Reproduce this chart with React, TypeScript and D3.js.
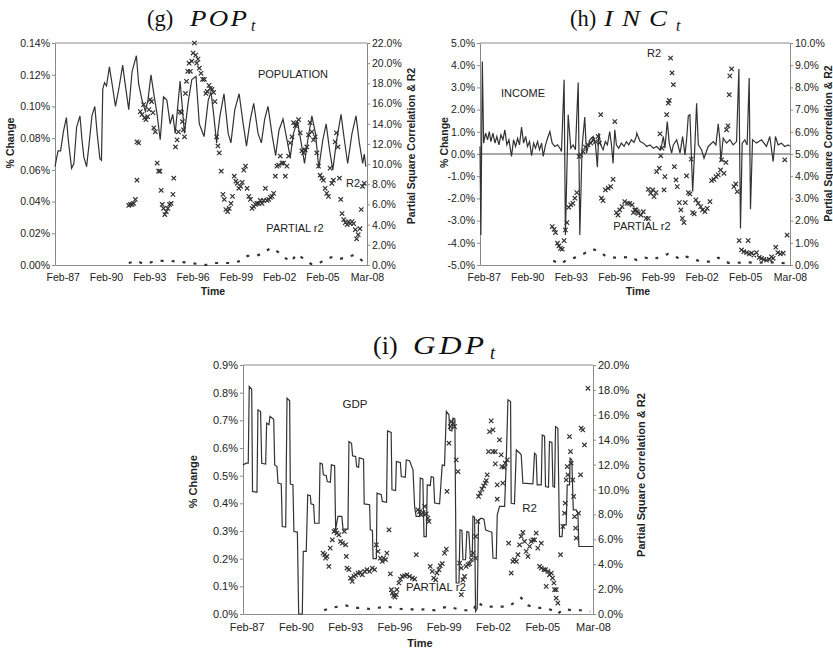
import React, { useEffect, useRef } from "react";
import * as d3 from "d3";

type Pt = [number, number];

// x values are decimal years (Feb-87 = 1987.083)
const X_END = 2008.17;
const X_TICK_YEARS = [1987.083, 1990.083, 1993.083, 1996.083, 1999.083, 2002.083, 2005.083, 2008.167];
const X_TICK_LABELS = ["Feb-87", "Feb-90", "Feb-93", "Feb-96", "Feb-99", "Feb-02", "Feb-05", "Mar-08"];

const POP_TICKS = [0, 0.02, 0.04, 0.06, 0.08, 0.1, 0.12, 0.14];
const POP_R_TICKS = [0, 2, 4, 6, 8, 10, 12, 14, 16, 18, 20, 22];
const INC_TICKS = [-5, -4, -3, -2, -1, 0, 1, 2, 3, 4, 5];
const INC_R_TICKS = [0, 1, 2, 3, 4, 5, 6, 7, 8, 9, 10];
const GDP_TICKS = [0, 0.1, 0.2, 0.3, 0.4, 0.5, 0.6, 0.7, 0.8, 0.9];
const GDP_R_TICKS = [0, 2, 4, 6, 8, 10, 12, 14, 16, 18, 20];

// population % change
const POP_LINE: Pt[] = [
  [1986.55, 0.062], [1986.76, 0.072], [1986.94, 0.072], [1987.13, 0.084], [1987.34, 0.093], [1987.47, 0.079],
  [1987.57, 0.071], [1987.7, 0.061], [1987.86, 0.064], [1988.05, 0.087], [1988.28, 0.094], [1988.42, 0.079],
  [1988.55, 0.068], [1988.74, 0.062], [1988.92, 0.077], [1989.11, 0.094], [1989.31, 0.1], [1989.47, 0.083],
  [1989.66, 0.067], [1989.77, 0.066], [1989.86, 0.111], [1989.98, 0.115], [1990.12, 0.113], [1990.32, 0.125],
  [1990.51, 0.114], [1990.74, 0.1], [1990.97, 0.111], [1991.24, 0.126], [1991.43, 0.113], [1991.66, 0.098],
  [1991.89, 0.122], [1992.19, 0.132], [1992.35, 0.114], [1992.58, 0.104], [1992.81, 0.097], [1992.99, 0.104],
  [1993.2, 0.12], [1993.43, 0.106], [1993.61, 0.096], [1993.84, 0.079], [1994.07, 0.106], [1994.3, 0.104],
  [1994.53, 0.089], [1994.71, 0.095], [1994.88, 0.083], [1995.22, 0.116], [1995.52, 0.083], [1995.8, 0.104],
  [1996.03, 0.117], [1996.32, 0.119], [1996.55, 0.089], [1996.88, 0.081], [1997.17, 0.104], [1997.36, 0.109],
  [1997.52, 0.097], [1997.75, 0.077], [1997.98, 0.094], [1998.26, 0.108], [1998.55, 0.083], [1998.74, 0.077],
  [1999.01, 0.098], [1999.31, 0.108], [1999.59, 0.089], [1999.82, 0.075], [2000.09, 0.092], [2000.32, 0.102],
  [2000.62, 0.083], [2000.85, 0.077], [2001.08, 0.092], [2001.31, 0.1], [2001.61, 0.081], [2001.84, 0.069],
  [2002.07, 0.085], [2002.35, 0.092], [2002.58, 0.081], [2002.85, 0.068], [2003.08, 0.083], [2003.34, 0.091],
  [2003.61, 0.077], [2003.84, 0.064], [2004.07, 0.079], [2004.35, 0.094], [2004.6, 0.083], [2004.83, 0.061],
  [2005.11, 0.079], [2005.34, 0.089], [2005.57, 0.073], [2005.8, 0.06], [2006.07, 0.079], [2006.37, 0.095],
  [2006.6, 0.079], [2006.83, 0.064], [2007.13, 0.083], [2007.41, 0.094], [2007.64, 0.077], [2007.87, 0.064],
  [2007.98, 0.07], [2008.09, 0.062],
];

const POP_R2: Pt[] = [
  [1991.66, 5.9], [1991.77, 6.0], [1991.89, 6.0], [1992.0, 6.1], [1992.12, 6.5], [1992.23, 8.4], [1992.23, 12.2],
  [1992.35, 12.1], [1992.46, 15.2], [1992.58, 14.9], [1992.69, 15.9], [1992.76, 14.6], [1992.85, 14.4], [1992.97, 14.7],
  [1993.06, 15.4], [1993.15, 16.4], [1993.24, 16.2], [1993.34, 15.1], [1993.4, 13.6], [1993.5, 13.2], [1993.63, 10.1],
  [1993.73, 9.3], [1993.82, 9.3], [1993.91, 7.4], [1993.98, 6.0], [1994.07, 5.6], [1994.16, 5.0], [1994.26, 5.3],
  [1994.37, 5.6], [1994.49, 6.0], [1994.6, 6.1], [1994.72, 7.0], [1994.78, 8.6], [1994.9, 11.7], [1995.01, 12.4],
  [1995.1, 13.2], [1995.2, 15.2], [1995.31, 15.1], [1995.38, 14.2], [1995.45, 13.4], [1995.52, 12.7], [1995.59, 17.0],
  [1995.66, 18.2], [1995.75, 19.2], [1995.84, 20.0], [1995.93, 19.2], [1996.03, 20.2], [1996.12, 21.0], [1996.21, 22.0],
  [1996.3, 20.8], [1996.37, 20.0], [1996.46, 20.4], [1996.55, 19.5], [1996.67, 19.0], [1996.78, 18.4], [1996.9, 18.4],
  [1997.01, 17.0], [1997.1, 17.2], [1997.22, 17.8], [1997.31, 17.5], [1997.43, 17.4], [1997.54, 17.1], [1997.63, 16.2],
  [1997.75, 12.7], [1997.84, 11.8], [1997.93, 11.1], [1998.07, 9.3], [1998.19, 7.0], [1998.28, 6.5], [1998.39, 5.5],
  [1998.51, 5.3], [1998.62, 5.6], [1998.74, 6.1], [1998.85, 6.8], [1998.97, 8.8], [1999.08, 8.3], [1999.18, 8.1],
  [1999.29, 7.6], [1999.41, 7.8], [1999.52, 8.2], [1999.63, 9.4], [1999.75, 9.8], [1999.86, 7.6], [1999.98, 6.8],
  [2000.09, 6.5], [2000.21, 5.6], [2000.32, 5.8], [2000.44, 6.0], [2000.55, 6.1], [2000.67, 6.1], [2000.78, 6.4],
  [2000.9, 6.1], [2001.01, 6.4], [2001.13, 7.6], [2001.24, 6.4], [2001.36, 6.5], [2001.47, 6.7], [2001.59, 6.8],
  [2001.7, 7.1], [2001.82, 8.8], [2001.93, 9.8], [2002.05, 9.9], [2002.16, 10.8], [2002.28, 10.1], [2002.39, 10.1],
  [2002.51, 8.8], [2002.62, 9.8], [2002.74, 10.8], [2002.85, 12.1], [2002.97, 12.7], [2003.08, 14.1], [2003.2, 13.8],
  [2003.31, 13.9], [2003.43, 14.4], [2003.54, 13.1], [2003.66, 11.3], [2003.77, 11.1], [2003.89, 11.4], [2004.0, 11.7],
  [2004.12, 12.9], [2004.23, 14.1], [2004.35, 13.2], [2004.46, 12.4], [2004.58, 12.7], [2004.69, 11.1], [2004.81, 9.8],
  [2004.92, 8.9], [2005.04, 8.6], [2005.15, 8.4], [2005.27, 7.6], [2005.38, 7.1], [2005.5, 6.8], [2005.61, 9.6],
  [2005.73, 8.1], [2005.84, 8.4], [2005.96, 12.2], [2006.05, 13.1], [2006.16, 11.7], [2006.26, 8.6], [2006.35, 6.5],
  [2006.44, 5.1], [2006.56, 4.5], [2006.67, 4.2], [2006.79, 4.0], [2006.9, 4.3], [2007.01, 4.1], [2007.13, 4.3],
  [2007.24, 4.1], [2007.36, 3.5], [2007.45, 2.6], [2007.56, 3.0], [2007.68, 3.6], [2007.77, 5.5], [2007.86, 7.8],
  [2007.98, 8.1],
];

const POP_PARTIAL: Pt[] = [
  [1991.66, 0.2], [1992.2, 0.4], [1992.7, 0.1], [1993.3, 0.3], [1993.9, 0.4], [1994.6, 0.4], [1995.3, 0.3],
  [1995.9, 0.2], [1996.5, 0.1], [1997.0, 0.0], [1997.6, 0.2], [1998.2, 0.2], [1998.8, 0.2], [1999.4, 0.4],
  [1999.9, 0.9], [2000.5, 0.9], [2001.0, 1.2], [2001.5, 1.7], [2002.0, 1.3], [2002.5, 0.7], [2002.9, 0.3],
  [2003.3, 1.1], [2003.8, 0.6], [2004.3, 0.1], [2004.8, 0.1], [2005.3, 0.6], [2005.8, 0.8], [2006.3, 0.6],
  [2006.8, 0.8], [2007.3, 1.0], [2007.7, 0.6], [2008.0, 0.2],
];

// income % change
const INC_LINE: Pt[] = [
  [1986.83, 0.34], [1986.89, -3.65], [1986.99, 4.17], [1987.08, 0.49], [1987.22, 0.94], [1987.35, 0.64],
  [1987.47, 1.01], [1987.58, 0.56], [1987.72, 0.94], [1987.86, 0.49], [1987.99, 0.79], [1988.13, 0.41],
  [1988.27, 0.86], [1988.41, 0.64], [1988.54, 1.09], [1988.68, 0.41], [1988.82, 0.64], [1989.0, -0.11],
  [1989.14, 0.64], [1989.28, 0.34], [1989.42, 0.71], [1989.55, 0.41], [1989.69, 1.21], [1989.83, 0.49],
  [1989.97, 0.79], [1990.1, 0.34], [1990.24, 0.56], [1990.38, -0.08], [1990.52, 0.49], [1990.65, 0.26],
  [1990.79, 0.56], [1990.93, 0.19], [1991.07, 0.49], [1991.18, -0.11], [1991.34, 0.41], [1991.48, 0.71],
  [1991.64, 1.01], [1991.8, 0.49], [1991.98, 0.34], [1992.17, 0.41], [1992.33, 0.26], [1992.44, 0.11],
  [1992.62, 3.34], [1992.71, -3.65], [1992.9, 1.77], [1993.08, 0.26], [1993.24, 0.41], [1993.4, 0.19],
  [1993.59, 3.22], [1993.7, -3.65], [1993.86, 0.34], [1994.04, 1.66], [1994.16, 0.04], [1994.39, 0.64],
  [1994.62, 0.79], [1994.78, 0.41], [1994.91, -0.6], [1995.01, 0.94], [1995.14, 0.41], [1995.3, 0.19],
  [1995.46, 0.56], [1995.6, 0.41], [1995.76, 1.01], [1995.88, 0.41], [1995.99, -0.42], [1996.11, 1.09],
  [1996.22, 0.41], [1996.38, 0.26], [1996.56, 0.49], [1996.75, 0.34], [1996.91, 0.56], [1997.07, 0.41],
  [1997.25, 0.64], [1997.43, 0.52], [1997.59, 0.79], [1997.62, 0.94], [1997.85, 0.56], [1998.08, 0.49],
  [1998.3, 0.34], [1998.53, 0.41], [1998.76, 0.26], [1998.99, 0.34], [1999.22, 0.19], [1999.34, 0.41],
  [1999.45, 0.79], [1999.56, 0.26], [1999.72, 1.46], [1999.86, 0.49], [2000.02, 0.04], [2000.14, 0.41],
  [2000.37, 0.64], [2000.6, 0.04], [2000.78, 0.79], [2000.94, -0.04], [2001.05, 0.64], [2001.17, 1.72],
  [2001.28, 1.77], [2001.47, -1.69], [2001.63, 0.49], [2001.74, 2.29], [2001.86, 0.41], [2002.08, 0.19],
  [2002.25, -0.19], [2002.54, 0.34], [2002.89, 0.56], [2003.07, 0.41], [2003.23, 1.36], [2003.34, 0.64],
  [2003.41, -0.34], [2003.57, 0.71], [2003.8, 0.49], [2004.03, 0.64], [2004.26, 0.41], [2004.49, 0.56],
  [2004.65, 3.83], [2004.76, -3.35], [2004.88, 0.49], [2005.06, 0.64], [2005.22, 0.41], [2005.36, 3.42],
  [2005.45, -2.49], [2005.59, 0.64], [2005.86, 0.49], [2006.21, 0.64], [2006.55, 0.34], [2006.78, 0.79],
  [2007.01, -0.34], [2007.17, 0.79], [2007.35, 0.41], [2007.58, 0.49], [2007.81, 0.34], [2008.04, 0.41],
  [2008.15, 0.35],
];

const INC_R2: Pt[] = [
  [1991.8, 1.73], [1991.94, 1.61], [1992.03, 1.46], [1992.16, 0.98], [1992.26, 0.86], [1992.37, 0.75],
  [1992.49, 0.71], [1992.62, 1.1], [1992.71, 1.58], [1992.81, 1.91], [1992.94, 2.6], [1993.08, 2.71],
  [1993.22, 2.78], [1993.36, 3.01], [1993.49, 3.26], [1993.65, 4.89], [1993.77, 4.96], [1993.93, 5.11],
  [1994.09, 5.31], [1994.27, 5.41], [1994.46, 5.49], [1994.62, 5.64], [1994.78, 5.56], [1994.96, 5.79],
  [1995.05, 5.49], [1995.14, 6.77], [1995.19, 3.01], [1995.3, 2.9], [1995.46, 3.38], [1995.65, 3.46],
  [1995.83, 3.53], [1995.99, 3.86], [1996.11, 6.46], [1996.22, 2.36], [1996.33, 2.25], [1996.45, 2.48],
  [1996.61, 2.63], [1996.79, 2.86], [1996.98, 2.78], [1997.14, 2.78], [1997.3, 2.71], [1997.48, 2.48],
  [1997.66, 2.4], [1997.39, 2.36], [1997.57, 2.48], [1997.73, 2.33], [1997.91, 2.25], [1998.07, 2.4],
  [1998.26, 2.1], [1998.42, 2.1], [1998.42, 3.41], [1998.58, 3.23], [1998.72, 3.38], [1998.81, 3.08],
  [1998.95, 3.26], [1998.99, 4.21], [1999.17, 4.36], [1999.27, 4.92], [1999.36, 5.26], [1999.22, 5.91],
  [1999.5, 3.38], [1999.56, 3.98], [1999.68, 6.77], [1999.79, 7.29], [1999.86, 7.41], [1999.95, 9.32],
  [2000.05, 8.65], [2000.14, 8.12], [2000.21, 4.43], [2000.32, 3.83], [2000.41, 3.53], [2000.55, 2.81],
  [2000.66, 2.48], [2000.76, 2.1], [2000.87, 1.91], [2000.96, 2.81], [2001.05, 4.01], [2001.17, 3.26],
  [2001.28, 3.2], [2001.37, 4.77], [2001.47, 2.36], [2001.58, 2.3], [2001.69, 2.93], [2001.85, 2.78],
  [2002.02, 2.63], [2002.15, 2.48], [2002.31, 2.4], [2002.47, 2.55], [2002.66, 2.86], [2002.77, 3.8],
  [2002.93, 3.86], [2003.07, 3.98], [2003.23, 4.06], [2003.39, 4.28], [2003.46, 4.74], [2003.62, 4.13],
  [2003.76, 4.62], [2003.8, 6.09], [2003.9, 6.27], [2003.99, 7.67], [2004.03, 8.52], [2004.15, 8.83],
  [2004.31, 3.53], [2004.44, 3.65], [2004.54, 3.31], [2004.67, 1.1], [2004.83, 0.68], [2004.99, 0.6],
  [2005.18, 0.56], [2005.29, 1.1], [2005.36, 0.5], [2005.52, 0.53], [2005.68, 0.45], [2005.86, 0.56],
  [2006.05, 0.34], [2006.21, 0.3], [2006.37, 0.25], [2006.55, 0.22], [2006.74, 0.25], [2006.9, 0.37],
  [2007.01, 0.3], [2007.19, 0.8], [2007.33, 0.56], [2007.51, 0.5], [2007.7, 0.53], [2007.81, 4.74],
  [2007.97, 1.35],
];

const INC_PARTIAL: Pt[] = [
  [1991.87, 0.19], [1992.39, 0.05], [1992.85, 0.25], [1993.36, 0.33], [1994.0, 0.52], [1994.62, 0.71],
  [1995.08, 0.6], [1995.53, 0.37], [1996.11, 0.33], [1996.68, 0.34], [1997.14, 0.37], [1997.62, 0.22],
  [1998.19, 0.33], [1998.76, 0.25], [1999.33, 0.4], [1999.79, 0.5], [2000.14, 0.45], [2000.6, 0.25],
  [2001.05, 0.37], [2001.4, 0.3], [2001.74, 0.22], [2002.08, 0.15], [2002.66, 0.15], [2003.23, 0.33],
  [2003.57, 0.22], [2003.92, 0.1], [2004.49, 0.1], [2005.18, 0.12], [2005.86, 0.1], [2006.55, 0.12],
  [2007.24, 0.12], [2007.93, 0.07],
];

// GDP % change
const GDP_LINE: Pt[] = [
  [1986.86, 0.539], [1987.06, 0.545], [1987.18, 0.545], [1987.24, 0.822], [1987.39, 0.812], [1987.44, 0.443],
  [1987.71, 0.44], [1987.77, 0.738], [1987.93, 0.732], [1988.0, 0.545], [1988.24, 0.542], [1988.3, 0.69],
  [1988.44, 0.684], [1988.5, 0.714], [1988.73, 0.704], [1988.79, 0.539], [1988.93, 0.533], [1988.99, 0.473],
  [1989.19, 0.47], [1989.25, 0.316], [1989.46, 0.314], [1989.54, 0.78], [1989.7, 0.771], [1989.74, 0.47],
  [1989.9, 0.467], [1989.96, 0.298], [1990.17, 0.296], [1990.25, 0.0], [1990.47, 0.0], [1990.53, 0.226],
  [1990.71, 0.226], [1990.8, 0.431], [1990.96, 0.428], [1991.0, 0.398], [1991.16, 0.395], [1991.22, 0.328],
  [1991.49, 0.328], [1991.55, 0.545], [1991.69, 0.542], [1991.75, 0.503], [1991.93, 0.5], [1991.99, 0.479],
  [1992.18, 0.476], [1992.24, 0.539], [1992.44, 0.536], [1992.5, 0.307], [1992.64, 0.353], [1992.88, 0.353],
  [1992.95, 0.307], [1993.25, 0.307], [1993.31, 0.623], [1993.47, 0.617], [1993.53, 0.572], [1993.72, 0.569],
  [1993.78, 0.533], [1993.9, 0.53], [1993.94, 0.565], [1994.2, 0.56], [1994.24, 0.398], [1994.57, 0.395],
  [1994.61, 0.304], [1994.74, 0.302], [1994.78, 0.2], [1994.98, 0.2], [1995.02, 0.437], [1995.28, 0.431],
  [1995.34, 0.407], [1995.6, 0.404], [1995.66, 0.662], [1995.88, 0.656], [1995.93, 0.449], [1996.15, 0.446],
  [1996.2, 0.551], [1996.44, 0.548], [1996.5, 0.497], [1996.74, 0.494], [1996.8, 0.557], [1997.0, 0.554],
  [1997.21, 0.521], [1997.31, 0.388], [1997.4, 0.353], [1997.61, 0.353], [1997.65, 0.491], [1997.81, 0.488],
  [1997.88, 0.28], [1998.02, 0.28], [1998.08, 0.467], [1998.26, 0.464], [1998.32, 0.497], [1998.46, 0.494],
  [1998.53, 0.401], [1998.83, 0.398], [1998.99, 0.539], [1999.13, 0.536], [1999.24, 0.732], [1999.4, 0.72],
  [1999.44, 0.665], [1999.58, 0.662], [1999.64, 0.708], [1999.76, 0.705], [1999.84, 0.112], [2000.01, 0.112],
  [2000.07, 0.304], [2000.19, 0.302], [2000.25, 0.196], [2000.41, 0.196], [2000.49, 0.298], [2000.61, 0.296],
  [2000.7, 0.208], [2000.82, 0.208], [2000.86, 0.353], [2000.96, 0.35], [2001.02, 0.01], [2001.12, 0.02],
  [2001.2, 0.34], [2001.37, 0.346], [2001.53, 0.343], [2001.63, 0.304], [2001.87, 0.298], [2002.01, 0.296],
  [2002.08, 0.202], [2002.28, 0.2], [2002.34, 0.358], [2002.48, 0.389], [2002.79, 0.389], [2002.89, 0.557],
  [2002.99, 0.774], [2003.15, 0.768], [2003.19, 0.4], [2003.39, 0.398], [2003.5, 0.593], [2003.72, 0.581],
  [2003.8, 0.575], [2003.9, 0.473], [2004.51, 0.47], [2004.61, 0.581], [2004.71, 0.575], [2004.77, 0.467],
  [2005.02, 0.467], [2005.08, 0.647], [2005.22, 0.643], [2005.28, 0.461], [2005.46, 0.458], [2005.52, 0.623],
  [2005.67, 0.62], [2005.73, 0.461], [2005.83, 0.458], [2005.89, 0.677], [2006.03, 0.671], [2006.13, 0.28],
  [2006.28, 0.28], [2006.34, 0.322], [2006.54, 0.322], [2006.6, 0.467], [2006.74, 0.467], [2006.78, 0.563],
  [2006.88, 0.557], [2006.97, 0.376], [2007.15, 0.376], [2007.25, 0.364], [2007.31, 0.244], [2008.17, 0.244],
];

const GDP_R2: Pt[] = [
  [1991.73, 4.89], [1991.83, 4.76], [1991.89, 4.49], [1991.97, 4.62], [1992.09, 3.82], [1992.17, 5.29],
  [1992.3, 5.96], [1992.4, 6.63], [1992.5, 6.71], [1992.58, 6.5], [1992.7, 6.36], [1992.8, 5.83],
  [1992.91, 5.69], [1993.03, 6.63], [1993.11, 5.56], [1993.15, 4.62], [1993.19, 3.69], [1993.31, 3.56],
  [1993.41, 2.89], [1993.51, 2.62], [1993.62, 3.02], [1993.72, 3.15], [1993.86, 3.29], [1994.0, 3.34],
  [1994.12, 3.15], [1994.27, 3.42], [1994.41, 3.56], [1994.57, 3.42], [1994.73, 3.69], [1994.87, 3.56],
  [1994.98, 5.56], [1995.08, 5.03], [1995.22, 4.49], [1995.34, 4.22], [1995.42, 4.49], [1995.54, 4.36],
  [1995.62, 4.89], [1995.75, 6.76], [1995.83, 3.23], [1995.89, 1.95], [1995.95, 1.68], [1996.03, 1.47],
  [1996.11, 1.36], [1996.19, 1.55], [1996.23, 1.95], [1996.35, 2.49], [1996.44, 2.81], [1996.56, 3.02],
  [1996.7, 3.07], [1996.84, 3.15], [1997.0, 3.02], [1997.17, 2.89], [1997.31, 2.81], [1997.41, 4.76],
  [1997.51, 8.37], [1997.61, 8.23], [1997.71, 7.97], [1997.82, 8.15], [1997.92, 8.64], [1998.02, 8.05],
  [1998.12, 7.7], [1998.18, 7.43], [1998.26, 3.82], [1998.38, 3.42], [1998.47, 2.89], [1998.59, 2.75],
  [1998.67, 3.29], [1998.79, 3.56], [1998.87, 3.88], [1998.99, 4.04], [1999.13, 4.89], [1999.24, 5.21],
  [1999.28, 9.84], [1999.4, 13.72], [1999.48, 15.05], [1999.56, 15.45], [1999.64, 15.32], [1999.74, 15.05],
  [1999.84, 12.38], [1999.95, 11.44], [2000.05, 4.09], [2000.15, 3.69], [2000.25, 2.75], [2000.15, 1.55],
  [2000.35, 3.02], [2000.45, 3.82], [2000.56, 3.96], [2000.66, 4.04], [2000.76, 4.36], [2000.86, 4.89],
  [2001.02, 4.49], [2001.02, 6.23], [2001.16, 7.43], [2001.2, 9.44], [2001.3, 9.71], [2001.41, 10.03],
  [2001.51, 10.29], [2001.61, 10.51], [2001.67, 10.72], [2001.73, 11.18], [2001.81, 13.05], [2001.87, 14.65],
  [2001.97, 15.51], [2002.08, 14.79], [2002.08, 13.05], [2002.22, 13.05], [2002.22, 12.06], [2002.34, 10.37],
  [2002.34, 9.22], [2002.48, 13.98], [2002.58, 12.78], [2002.62, 11.84], [2002.68, 10.51], [2002.75, 11.79],
  [2002.83, 12.11], [2002.95, 12.38], [2003.03, 5.69], [2003.19, 3.29], [2003.29, 4.22], [2003.39, 4.36],
  [2003.5, 4.22], [2003.6, 4.76], [2003.7, 5.56], [2003.8, 6.23], [2003.9, 6.55], [2004.0, 5.83],
  [2004.1, 5.03], [2004.21, 4.62], [2004.31, 5.43], [2004.41, 5.83], [2004.51, 5.96], [2004.61, 5.96],
  [2004.71, 6.5], [2004.81, 5.29], [2005.02, 5.69], [2004.92, 3.82], [2005.02, 3.69], [2005.18, 3.56],
  [2005.28, 3.56], [2005.42, 3.42], [2005.52, 3.15], [2005.63, 3.29], [2005.71, 2.89], [2005.32, 2.22],
  [2005.79, 2.49], [2005.83, 1.95], [2005.93, 1.95], [2005.93, 1.28], [2006.03, 0.88], [2006.19, 4.76],
  [2006.34, 7.03], [2006.44, 8.1], [2006.48, 8.9], [2006.54, 10.77], [2006.6, 11.84], [2006.64, 11.18],
  [2006.74, 14.25], [2006.8, 13.05], [2006.84, 12.11], [2006.94, 10.77], [2006.99, 9.44], [2007.05, 7.83],
  [2007.11, 6.9], [2007.15, 6.1], [2007.29, 8.1], [2007.41, 11.18], [2007.45, 14.92], [2007.55, 14.79],
  [2007.65, 13.58], [2007.86, 18.13],
];

const GDP_PARTIAL: Pt[] = [
  [1991.8, 0.3], [1992.2, 0.5], [1992.7, 0.6], [1993.1, 0.7], [1993.6, 0.5], [1994.1, 0.5], [1994.6, 0.4],
  [1995.1, 0.5], [1995.6, 0.6], [1996.0, 0.5], [1996.5, 0.4], [1997.0, 0.4], [1997.5, 0.3], [1998.0, 0.4],
  [1998.5, 0.3], [1999.0, 0.5], [1999.4, 0.6], [1999.9, 0.4], [2000.4, 0.3], [2000.9, 0.3], [2001.1, 1.0],
  [2001.5, 0.6], [2002.0, 0.6], [2002.5, 0.6], [2003.0, 0.6], [2003.5, 1.0], [2003.8, 1.3], [2004.2, 0.7],
  [2004.7, 0.5], [2005.2, 0.5], [2005.7, 0.3], [2006.0, 0.0], [2006.4, 0.4], [2006.9, 0.3], [2007.4, 0.3],
  [2008.0, 0.2],
];

const FONT = "'Liberation Sans', Arial, sans-serif";
const SERIF = "'Liberation Serif', 'Times New Roman', serif";
const AXIS_GRAY = "#8a8a8a";
const INK = "#333";

const pct = (d: number) => (v: number) => v.toFixed(d) + "%";

const panels = [
  {
    left: 55, right: 367, top: 43, bottom: 265, x0: 1986.55, fs: 10.5,
    leftDomain: [0, 0.14], rightDomain: [0, 22], leftTicks: POP_TICKS, rightTicks: POP_R_TICKS,
    leftFmt: pct(2), rightFmt: pct(1),
    line: POP_LINE, r2: POP_R2, partial: POP_PARTIAL, zero: false,
    title: { paren: "(g)", px: 147, name: "POP", nx: 190, nlen: 57, tx: 251, y: 26, size: 22.5 },
    change: [13.7, 143], rlabel: [415, 146], time: [213, 294.5],
    notes: [["POPULATION", 293, 78], ["R2", 353, 186.5], ["PARTIAL r2", 295, 231.5]],
  },
  {
    left: 480, right: 790, top: 43, bottom: 265, x0: 1986.83, fs: 10.5,
    leftDomain: [-5, 5], rightDomain: [0, 10], leftTicks: INC_TICKS, rightTicks: INC_R_TICKS,
    leftFmt: pct(1), rightFmt: pct(1),
    line: INC_LINE, r2: INC_R2, partial: INC_PARTIAL, zero: true,
    title: { paren: "(h)", px: 570, name: "INC", nx: 604, nlen: 63, tx: 676, y: 26, size: 22.5 },
    change: [448.4, 142.5], rlabel: [831.5, 143.5], time: [638, 294.5],
    notes: [["INCOME", 523, 97], ["R2", 654, 56.5], ["PARTIAL r2", 642, 230]],
  },
  {
    left: 243, right: 593, top: 365, bottom: 614, x0: 1986.86, fs: 11,
    leftDomain: [0, 0.9], rightDomain: [0, 20], leftTicks: GDP_TICKS, rightTicks: GDP_R_TICKS,
    leftFmt: pct(1), rightFmt: pct(1),
    line: GDP_LINE, r2: GDP_R2, partial: GDP_PARTIAL, zero: false,
    title: { paren: "(i)", px: 373, name: "GDP", nx: 413, nlen: 71, tx: 490, y: 354, size: 26 },
    change: [197, 481.7], rlabel: [645.4, 475], time: [420, 647],
    notes: [["GDP", 355, 407.5], ["R2", 529.5, 511.5], ["PARTIAL r2", 436, 590.5]],
  },
];

function drawPanel(root: any, p: any) {
  const g = root.append("g");
  const x = d3.scaleLinear().domain([p.x0, X_END]).range([p.left, p.right]);
  const yL = d3.scaleLinear().domain(p.leftDomain).range([p.bottom, p.top]);
  const yR = d3.scaleLinear().domain(p.rightDomain).range([p.bottom, p.top]);

  // top border of plot area
  g.append("line")
    .attr("x1", p.left).attr("x2", p.right)
    .attr("y1", p.top).attr("y2", p.top)
    .attr("stroke", AXIS_GRAY).attr("stroke-width", 1);

  const styleAxis = (a: any) => {
    a.attr("font-family", FONT).attr("font-size", p.fs);
    a.selectAll("path,line").attr("stroke", AXIS_GRAY);
    a.selectAll("text").attr("fill", "#222");
  };

  g.append("g")
    .attr("transform", `translate(0,${p.bottom})`)
    .call(
      d3.axisBottom(x).tickValues(X_TICK_YEARS)
        .tickFormat((d: any, i: number) => X_TICK_LABELS[i])
        .tickSize(0).tickSizeOuter(0).tickPadding(9)
    )
    .call(styleAxis);

  g.append("g")
    .attr("transform", `translate(${p.left},0)`)
    .call(d3.axisLeft(yL).tickValues(p.leftTicks).tickFormat(p.leftFmt).tickSize(3).tickSizeOuter(0).tickPadding(2))
    .call(styleAxis);

  g.append("g")
    .attr("transform", `translate(${p.right},0)`)
    .call(d3.axisRight(yR).tickValues(p.rightTicks).tickFormat(p.rightFmt).tickSize(3).tickSizeOuter(0).tickPadding(2))
    .call(styleAxis);

  if (p.zero) {
    g.append("line")
      .attr("x1", p.left).attr("x2", p.right)
      .attr("y1", yL(0)).attr("y2", yL(0))
      .attr("stroke", "#555").attr("stroke-width", 1.2);
  }

  const lineL = d3.line<Pt>().x((d) => x(d[0])).y((d) => yL(d[1]));
  const lineR = d3.line<Pt>().x((d) => x(d[0])).y((d) => yR(d[1]));

  g.append("path")
    .datum(p.line)
    .attr("d", lineL)
    .attr("fill", "none")
    .attr("stroke", INK)
    .attr("stroke-width", 1.2);

  g.append("path")
    .datum(p.partial)
    .attr("d", lineR)
    .attr("fill", "none")
    .attr("stroke", INK)
    .attr("stroke-width", 2.2)
    .attr("stroke-dasharray", "3,8");

  g.selectAll(".r2")
    .data(p.r2)
    .enter()
    .append("path")
    .attr("class", "r2")
    .attr("d", "M-2.2,-2.2L2.2,2.2M-2.2,2.2L2.2,-2.2")
    .attr("transform", (d: Pt) => `translate(${x(d[0])},${yR(d[1])})`)
    .attr("stroke", INK)
    .attr("stroke-width", 1.2)
    .attr("fill", "none");

  // series notes inside the plot
  p.notes.forEach((n: any) => {
    g.append("text")
      .attr("x", n[1]).attr("y", n[2])
      .attr("text-anchor", "middle")
      .attr("font-family", FONT)
      .attr("font-size", p.fs + 0.5)
      .attr("fill", "#222")
      .text(n[0]);
  });

  // axis titles
  g.append("text")
    .attr("transform", `translate(${p.change[0]},${p.change[1]}) rotate(-90)`)
    .attr("text-anchor", "middle")
    .attr("font-family", FONT).attr("font-weight", "bold")
    .attr("font-size", p.fs).attr("fill", "#222")
    .text("% Change");

  g.append("text")
    .attr("transform", `translate(${p.rlabel[0]},${p.rlabel[1]}) rotate(-90)`)
    .attr("text-anchor", "middle")
    .attr("font-family", FONT).attr("font-weight", "bold")
    .attr("font-size", p.fs).attr("fill", "#222")
    .text("Partial Square Correlation & R2");

  g.append("text")
    .attr("x", p.time[0]).attr("y", p.time[1])
    .attr("text-anchor", "middle")
    .attr("font-family", FONT).attr("font-weight", "bold")
    .attr("font-size", p.fs).attr("fill", "#222")
    .text("Time");

  // panel title, LaTeX style: wide italic letters, stretched horizontally
  const t = p.title;
  g.append("text")
    .attr("x", t.px).attr("y", t.y)
    .attr("font-family", SERIF).attr("font-size", t.size).attr("fill", "#111")
    .text(t.paren);
  const sx = 1.2;
  const name = g.append("text")
    .attr("transform", `translate(${t.nx},${t.y}) scale(${sx},1)`)
    .attr("font-family", SERIF).attr("font-style", "italic")
    .attr("font-size", t.size).attr("fill", "#111")
    .text(t.name);
  const natural = (name.node() as SVGTextElement).getComputedTextLength();
  const spacing = Math.max(0, (t.nlen / sx - natural) / (t.name.length - 1));
  name.attr("letter-spacing", spacing);
  g.append("text")
    .attr("x", t.tx).attr("y", t.y + t.size * 0.2)
    .attr("font-family", SERIF).attr("font-style", "italic")
    .attr("font-size", t.size * 0.7).attr("fill", "#111")
    .text("t");
}

export default function App() {
  const ref = useRef<SVGSVGElement | null>(null);

  useEffect(() => {
    const svg = d3.select(ref.current);
    svg.selectAll("*").remove();
    svg.append("rect").attr("width", 833).attr("height", 652).attr("fill", "#fff");
    panels.forEach((p) => drawPanel(svg, p));
  }, []);

  return (
    <svg
      ref={ref}
      width={833}
      height={652}
      style={{ position: "absolute", left: 0, top: 0, display: "block" }}
    />
  );
}
